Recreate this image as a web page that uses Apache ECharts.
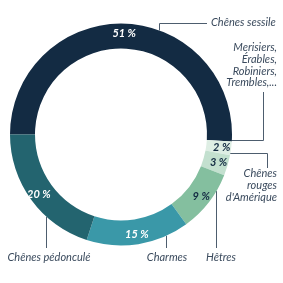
<!DOCTYPE html>
<html><head><meta charset="utf-8">
<script src="https://cdn.jsdelivr.net/npm/echarts@6/dist/echarts.min.js"></script>
<style>html,body{margin:0;padding:0;background:#fff}#c{width:283px;height:283px}</style>
</head><body><div id="c"></div>
<script>
const categories = ["Chênes sessile", "Merisiers,\nÉrables,\nRobiniers,\nTrembles,...", "Chênes\nrouges\nd'Amérique", "Hêtres", "Charmes", "Chênes pédonculé"];
const shares = [51, 2, 3, 9, 15, 20];
const colors = ["#132b43", "#deeee4", "#c3e0cf", "#84bf9f", "#3a98a8", "#23646f"];
const insideTextColors = ["#ffffff", "#132b43", "#132b43", "#132b43", "#ffffff", "#ffffff"];

const CX = 121, CY = 134.5, R_IN = 86, R_OUT = 111;
function ringY(x, below) { const d = Math.sqrt(R_OUT * R_OUT - (x - CX) * (x - CX)); return below ? CY + d : CY - d; }
function ringX(y) { return CX + Math.sqrt(R_OUT * R_OUT - (y - CY) * (y - CY)); }

const FONT = 'Lato';
const TXT = '#3a4a5d';

// label layout per slice (positions only)
const layouts = [
  () => ({ x: 211, y: 22.5, align: 'left', verticalAlign: 'middle',
           labelLinePoints: [[159.5, ringY(159.5, false)], [159.5, 23.5], [207, 23.5]] }),
  () => ({ x: 277, y: 42, align: 'right', verticalAlign: 'top',
           labelLinePoints: [[ringX(140.5) - 0.5, 140.5], [263.5, 140.5], [263.5, 92]] }),
  () => ({ x: 277, y: 168, align: 'right', verticalAlign: 'top',
           labelLinePoints: [[ringX(153.5) - 0.5, 153.5], [267.5, 153.5], [267.5, 168]] }),
  () => ({ x: 221, y: 257, align: 'center', verticalAlign: 'middle',
           labelLinePoints: [[216.5, ringY(216.5, true)], [216.5, 248], [216.5, 248]] }),
  () => ({ x: 167, y: 257, align: 'center', verticalAlign: 'middle',
           labelLinePoints: [[166.5, ringY(166.5, true)], [166.5, 248], [166.5, 248]] }),
  () => ({ x: 49, y: 257, align: 'center', verticalAlign: 'middle',
           labelLinePoints: [[46.5, ringY(46.5, true)], [46.5, 248], [46.5, 248]] })
];

const chart = echarts.init(document.getElementById('c'), null, { renderer: 'canvas' });
const innerData = categories.map((n, i) => ({
  name: n, value: shares[i],
  itemStyle: { color: colors[i] },
  label: { color: insideTextColors[i] }
}));
const outerData = categories.map((n, i) => ({ name: n, value: shares[i] }));

chart.setOption({
  animation: false,
  series: [
    {
      type: 'pie', center: [CX, CY], radius: [R_IN, R_OUT], startAngle: 180, clockwise: true,
      avoidLabelOverlap: false, silent: true,
      itemStyle: { borderWidth: 0 },
      label: { show: true, position: 'inside', fontFamily: FONT, fontStyle: 'italic', fontWeight: 'bold', fontSize: 11,
               formatter: p => p.value + ' %' },
      labelLine: { show: false },
      emphasis: { disabled: true },
      data: innerData
    },
    {
      type: 'pie', center: [CX, CY], radius: [R_IN, R_OUT], startAngle: 180, clockwise: true,
      avoidLabelOverlap: false, silent: true,
      itemStyle: { color: 'rgba(0,0,0,0)', borderWidth: 0 },
      label: { show: true, position: 'outside', fontFamily: FONT, fontStyle: 'italic', fontSize: 11,
               color: TXT, lineHeight: 11.7, formatter: p => p.name },
      labelLine: { show: true, lineStyle: { color: '#4d5d6e', width: 1 } },
      labelLayout: p => layouts[p.dataIndex](),
      emphasis: { disabled: true },
      data: outerData
    }
  ]
});
</script></body></html>
